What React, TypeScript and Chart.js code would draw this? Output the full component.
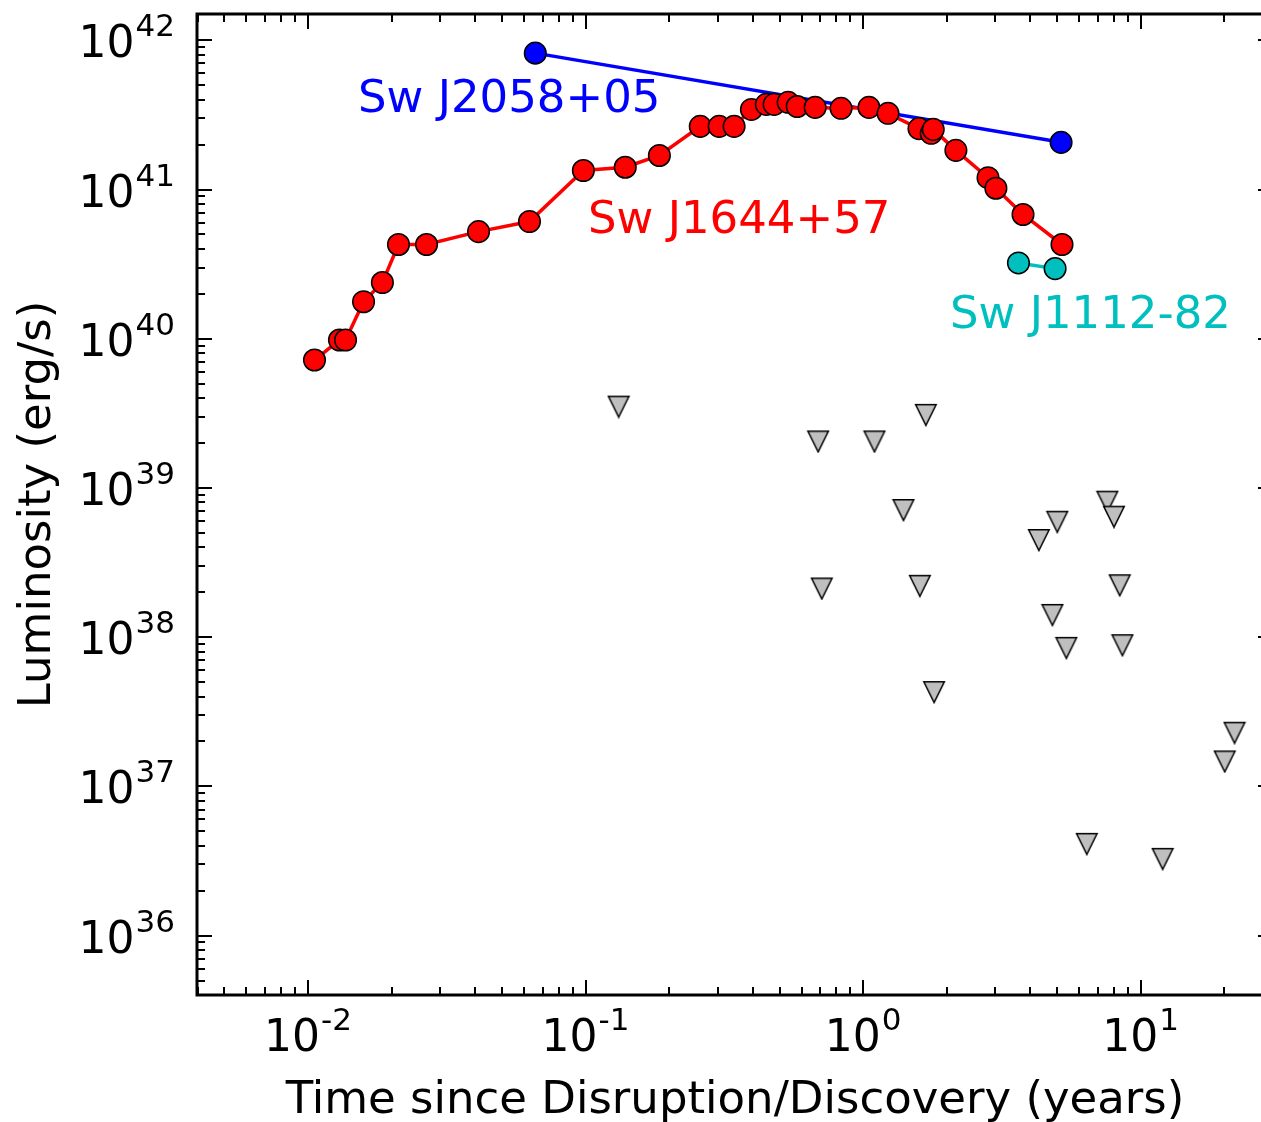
import { useEffect, useRef } from "react";
import { Chart, registerables } from "chart.js";

Chart.register(...registerables);

// Sw J1644+57 light curve (years, erg/s)
const j1644Time = [
  0.01055, 0.01298, 0.01365, 0.01585, 0.01853, 0.02118, 0.02673, 0.04115, 0.0628, 0.0982,
  0.139, 0.1845, 0.259, 0.303, 0.343, 0.396, 0.448, 0.478, 0.537, 0.579, 0.672, 0.833,
  1.05, 1.23, 1.59, 1.76, 1.79, 2.16, 2.82, 3.01, 3.77, 5.21,
];
const j1644Lum = [
  7.2e39, 9.8e39, 9.8e39, 1.77e40, 2.38e40, 4.28e40, 4.28e40, 5.22e40, 6.1e40, 1.34e41,
  1.41e41, 1.69e41, 2.65e41, 2.65e41, 2.65e41, 3.44e41, 3.72e41, 3.72e41, 3.84e41, 3.6e41,
  3.55e41, 3.5e41, 3.55e41, 3.24e41, 2.56e41, 2.38e41, 2.53e41, 1.83e41, 1.2e41, 1.02e41,
  6.8e40, 4.28e40,
];

// Sw J2058+05
const j2058Time = [0.0659, 5.17];
const j2058Lum = [8.2e41, 2.07e41];

// Sw J1112-82
const j1112Time = [3.63, 4.92];
const j1112Lum = [3.22e40, 2.95e40];

// Upper limits
const limitTime = [
  0.1316, 0.689, 1.099, 1.683, 1.398, 0.71, 1.602, 1.803, 7.59, 8.02,
  5.01, 4.3, 8.41, 4.81, 5.4, 8.6, 21.8, 20.1, 6.4, 12.01,
];
const limitLum = [
  3.51e39, 2.05e39, 2.05e39, 3.09e39, 7.12e38, 2.12e38, 2.21e38, 4.29e37, 8.09e38, 6.42e38,
  5.94e38, 4.48e38, 2.23e38, 1.41e38, 8.48e37, 8.84e37, 2.29e37, 1.47e37, 4.12e36, 3.27e36,
];

// Axis ranges and labelled decades
const xRange = [0.00398, 30];
const yRange = [4e35, 1.5e42];
const xTickExponents = [-2, -1, 0, 1];
const yTickExponents = [36, 37, 38, 39, 40, 41, 42];

const xTitle = "Time since Disruption/Discovery (years)";
const yTitle = "Luminosity (erg/s)";
const seriesLabels = [
  { text: "Sw J2058+05", color: "#0000ff", x: 358, y: 112 },
  { text: "Sw J1644+57", color: "#ff0000", x: 588, y: 233 },
  { text: "Sw J1112-82", color: "#00bfbf", x: 950, y: 328 },
];

const FONT = '"DejaVu Sans", "Liberation Sans", sans-serif';
const BIG = 45;
const SUP = 31;

const pairs = (xs: number[], ys: number[]) => xs.map((x, i) => ({ x, y: ys[i] }));

function drawPower(
  ctx: CanvasRenderingContext2D,
  exp: number,
  x: number,
  baseline: number,
  align: "center" | "right"
) {
  const base = "10";
  const sup = String(exp);
  ctx.font = `44px ${FONT}`;
  const wb = ctx.measureText(base).width;
  ctx.font = `${SUP}px ${FONT}`;
  const ws = ctx.measureText(sup).width;
  const total = wb + ws + 1;
  const start = align === "center" ? x - total / 2 : x - total;
  ctx.textAlign = "left";
  ctx.textBaseline = "alphabetic";
  ctx.font = `44px ${FONT}`;
  ctx.fillText(base, start, baseline);
  ctx.font = `${SUP}px ${FONT}`;
  ctx.fillText(sup, start + wb + 1, baseline - 21);
}

const framePlugin = {
  id: "frame",
  afterDraw(chart: any) {
    const { ctx, chartArea: a, scales } = chart;
    const xs = scales.x;
    const ys = scales.y;
    ctx.save();
    ctx.strokeStyle = "#000";
    ctx.fillStyle = "#000";

    const seg = (x1: number, y1: number, x2: number, y2: number) => {
      ctx.beginPath();
      ctx.moveTo(x1, y1);
      ctx.lineTo(x2, y2);
      ctx.stroke();
    };

    // inward ticks on all four sides
    ctx.lineWidth = 2;
    for (let e = -4; e <= 3; e++) {
      for (let m = 1; m <= 9; m++) {
        const v = m * Math.pow(10, e);
        if (v < xRange[0] || v > xRange[1]) continue;
        const px = Math.round(xs.getPixelForValue(v));
        const len = m === 1 ? 15 : 8;
        seg(px, a.bottom, px, a.bottom - len);
        seg(px, a.top, px, a.top + len);
      }
    }
    for (let e = 35; e <= 43; e++) {
      for (let m = 1; m <= 9; m++) {
        const v = m * Math.pow(10, e);
        if (v < yRange[0] || v > yRange[1]) continue;
        const py = Math.round(ys.getPixelForValue(v));
        const len = m === 1 ? 15 : 8;
        seg(a.left, py, a.left + len, py);
        seg(a.right, py, a.right - len, py);
      }
    }

    // spines
    ctx.lineWidth = 3;
    ctx.strokeRect(a.left, a.top, a.right - a.left, a.bottom - a.top);

    // tick labels
    for (const e of xTickExponents) {
      const px = xs.getPixelForValue(Math.pow(10, e));
      drawPower(ctx, e, px, a.bottom + 56, "center");
    }
    for (const e of yTickExponents) {
      const py = ys.getPixelForValue(Math.pow(10, e));
      drawPower(ctx, e, a.left - 22, py + 17, "right");
    }

    // axis titles
    ctx.font = `${BIG}px ${FONT}`;
    ctx.textAlign = "center";
    ctx.textBaseline = "alphabetic";
    ctx.fillText(xTitle, (a.left + a.right) / 2, 1113);
    ctx.save();
    ctx.translate(50, (a.top + a.bottom) / 2);
    ctx.rotate(-Math.PI / 2);
    ctx.fillText(yTitle, 0, 0);
    ctx.restore();

    // series names
    ctx.textAlign = "left";
    for (const s of seriesLabels) {
      ctx.fillStyle = s.color;
      ctx.fillText(s.text, s.x, s.y);
    }
    ctx.restore();
  },
};

function makeTriangle(): HTMLCanvasElement {
  const c = document.createElement("canvas");
  c.width = 24;
  c.height = 24;
  const g = c.getContext("2d")!;
  g.beginPath();
  g.moveTo(1.75, 1.75);
  g.lineTo(22.25, 1.75);
  g.lineTo(12, 22.5);
  g.closePath();
  g.fillStyle = "#bfbfbf";
  g.fill();
  g.lineWidth = 1.5;
  g.strokeStyle = "#000";
  g.lineJoin = "miter";
  g.stroke();
  return c;
}

export default function App() {
  const ref = useRef<HTMLCanvasElement>(null);

  useEffect(() => {
    const canvas = ref.current;
    if (!canvas) return;
    const triangle = makeTriangle();
    const circle = (color: string) => ({
      showLine: true,
      borderColor: color,
      borderWidth: 3.5,
      backgroundColor: color,
      pointRadius: 10.8,
      pointBorderWidth: 1.5,
      pointBorderColor: "#000",
      pointBackgroundColor: color,
      pointStyle: "circle" as const,
    });
    const chart = new Chart(canvas, {
      type: "scatter",
      data: {
        datasets: [
          { label: "Sw J1644+57", data: pairs(j1644Time, j1644Lum), order: 0, ...circle("#ff0000") },
          { label: "Sw J2058+05", data: pairs(j2058Time, j2058Lum), order: 1, ...circle("#0000ff") },
          { label: "Sw J1112-82", data: pairs(j1112Time, j1112Lum), order: 2, ...circle("#00bfbf") },
          {
            label: "Upper limits",
            data: pairs(limitTime, limitLum),
            order: 3,
            showLine: false,
            pointStyle: triangle,
            pointRadius: 10,
          },
        ],
      },
      options: {
        animation: false,
        responsive: false,
        devicePixelRatio: 1,
        layout: { autoPadding: false, padding: { left: 197, top: 14, right: 17, bottom: 127 } },
        plugins: { legend: { display: false }, tooltip: { enabled: false } },
        scales: {
          x: { type: "logarithmic", min: xRange[0], max: xRange[1], display: false },
          y: { type: "logarithmic", min: yRange[0], max: yRange[1], display: false },
        },
      },
      plugins: [framePlugin],
    });
    return () => chart.destroy();
  }, []);

  return (
    <div
      style={{
        position: "fixed",
        left: 0,
        top: 0,
        width: 1261,
        height: 1122,
        overflow: "hidden",
        background: "#fff",
      }}
    >
      <canvas ref={ref} width={1290} height={1122} style={{ display: "block" }} />
    </div>
  );
}
